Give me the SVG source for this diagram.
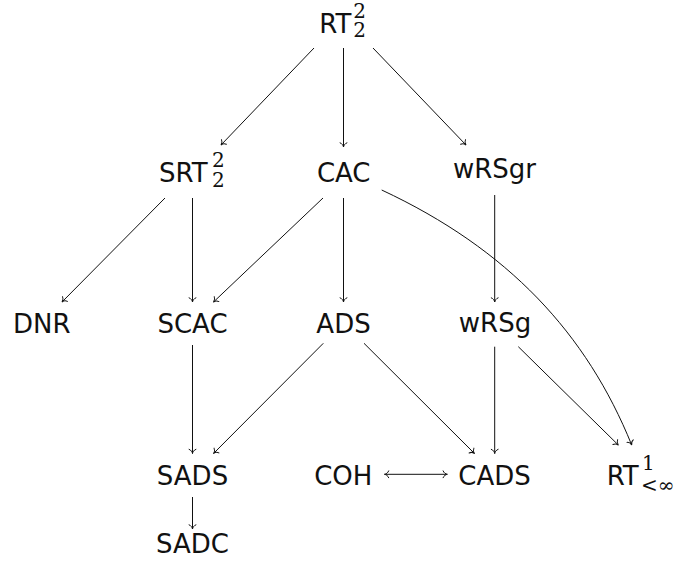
<svg xmlns="http://www.w3.org/2000/svg" width="683" height="564" viewBox="0 0 683 564">
<style>
text{font-family:"DejaVu Sans",sans-serif;font-size:26px;fill:#111}
.c{text-anchor:middle}
.s{font-family:"DejaVu Serif","Liberation Serif",serif;font-size:20px}
.e{fill:none;stroke:#111;stroke-width:1}
</style>
<defs>
<marker id="to" markerUnits="userSpaceOnUse" markerWidth="12" markerHeight="12" viewBox="-6 -6 12 12" refX="0" refY="0" orient="auto-start-reverse" overflow="visible">
<path d="M -4.2,-3.4 C -3.5,-1.3 -1.3,-0.2 0,0 C -1.3,0.2 -3.5,1.3 -4.2,3.4" fill="none" stroke="#111" stroke-width="1" stroke-linecap="round"/>
</marker>
</defs>
<rect width="683" height="564" fill="#fff"/>
<g id="connectors">
<line class="e" x1="314" y1="48" x2="221" y2="145" marker-end="url(#to)"/>
<line class="e" x1="343.5" y1="48" x2="343.5" y2="147" marker-end="url(#to)"/>
<line class="e" x1="373" y1="48" x2="466" y2="145" marker-end="url(#to)"/>
<line class="e" x1="165" y1="198" x2="62" y2="302" marker-end="url(#to)"/>
<line class="e" x1="192.5" y1="198" x2="192.5" y2="302" marker-end="url(#to)"/>
<line class="e" x1="323" y1="198" x2="213.5" y2="302" marker-end="url(#to)"/>
<line class="e" x1="343.5" y1="198" x2="343.5" y2="302" marker-end="url(#to)"/>
<line class="e" x1="494.7" y1="195" x2="494.7" y2="302" marker-end="url(#to)"/>
<path class="e" d="M 381.7,190 C 508.5,249.2 586.7,333.8 631.7,445" marker-end="url(#to)"/>
<line class="e" x1="192.5" y1="345" x2="192.5" y2="453.5" marker-end="url(#to)"/>
<line class="e" x1="323.3" y1="343.3" x2="213.5" y2="453.5" marker-end="url(#to)"/>
<line class="e" x1="364" y1="343.3" x2="474.5" y2="453.5" marker-end="url(#to)"/>
<line class="e" x1="494.7" y1="346.7" x2="494.7" y2="453.5" marker-end="url(#to)"/>
<line class="e" x1="518.3" y1="346.7" x2="618.3" y2="445" marker-end="url(#to)"/>
<line class="e" x1="384.5" y1="474.3" x2="447.3" y2="474.3" marker-start="url(#to)" marker-end="url(#to)"/>
<line class="e" x1="192.5" y1="497" x2="192.5" y2="529" marker-end="url(#to)"/>
</g>
<g id="RT22"><text x="319.3" y="33.3">RT<tspan class="s" x="353.3" y="18">2</tspan><tspan class="s" x="353.3" y="37">2</tspan></text></g>
<g id="SRT22"><text x="159" y="181.7">SRT<tspan class="s" x="212" y="167">2</tspan><tspan class="s" x="212" y="187">2</tspan></text></g>
<g id="CAC"><text class="c" x="343.7" y="181.7">CAC</text></g>
<g id="wRSgr"><text class="c" x="494.5" y="177.7">wRSgr</text></g>
<g id="DNR"><text class="c" x="41.7" y="333.3">DNR</text></g>
<g id="SCAC"><text class="c" x="192.5" y="333.3">SCAC</text></g>
<g id="ADS"><text class="c" x="343.5" y="333.3">ADS</text></g>
<g id="wRSg"><text class="c" x="495" y="331.7">wRSg</text></g>
<g id="SADS"><text class="c" x="192.5" y="485">SADS</text></g>
<g id="COH"><text class="c" x="343.3" y="485">COH</text></g>
<g id="CADS"><text class="c" x="494.5" y="485">CADS</text></g>
<g id="RT1"><text x="606.7" y="485">RT<tspan class="s" x="642" y="470">1</tspan><tspan class="s" x="641" y="492">&lt;∞</tspan></text></g>
<g id="SADC"><text class="c" x="192.5" y="553">SADC</text></g>
</svg>
